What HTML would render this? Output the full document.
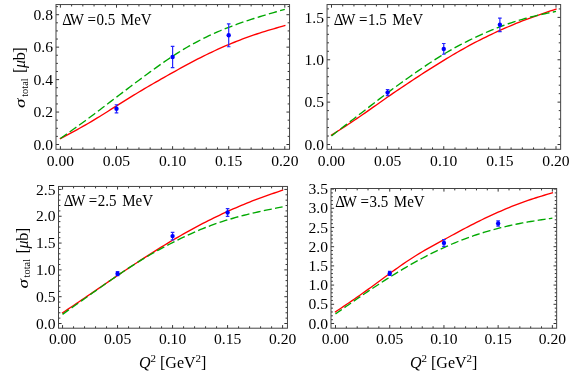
<!DOCTYPE html>
<html><head><meta charset="utf-8"><title>sigma total</title>
<style>
html,body{margin:0;padding:0;background:#fff;}
svg{display:block;}
text{font-family:"Liberation Serif", serif;font-size:15px;fill:#000;}
.it{font-style:italic;}
.tk{font-size:15.6px;}
.lb{font-size:15.7px;}
</style></head><body>
<svg width="581" height="372" viewBox="0 0 581 372">
<rect x="0" y="0" width="581" height="372" fill="#ffffff"/>
<defs><filter id="gs" filterUnits="userSpaceOnUse" x="0" y="0" width="581" height="372" color-interpolation-filters="sRGB"><feOffset dx="0" dy="0"/></filter></defs>
<g filter="url(#gs)">
<g>
<clipPath id="c0"><rect x="56" y="4.55" width="233.55" height="144.75"/></clipPath>
<g clip-path="url(#c0)" fill="none" stroke-linecap="butt" stroke-linejoin="round">
<path d="M60.4 138.5 L63.2 137.03 L66.01 135.55 L68.81 134.07 L71.62 132.58 L74.42 131.08 L77.23 129.56 L80.03 128.02 L82.84 126.46 L85.64 124.87 L88.45 123.25 L91.25 121.59 L94.06 119.91 L96.87 118.2 L99.67 116.47 L102.47 114.73 L105.28 112.97 L108.09 111.2 L110.89 109.43 L113.69 107.65 L116.5 105.88 L119.31 104.12 L122.11 102.37 L124.91 100.62 L127.72 98.88 L130.53 97.15 L133.33 95.44 L136.13 93.73 L138.94 92.04 L141.75 90.35 L144.55 88.69 L147.35 87.03 L150.16 85.39 L152.97 83.76 L155.77 82.14 L158.58 80.54 L161.38 78.94 L164.19 77.35 L166.99 75.77 L169.8 74.19 L172.6 72.62 L175.41 71.06 L178.21 69.5 L181.01 67.96 L183.82 66.42 L186.62 64.89 L189.43 63.39 L192.24 61.89 L195.04 60.42 L197.84 58.97 L200.65 57.53 L203.46 56.13 L206.26 54.74 L209.07 53.39 L211.87 52.05 L214.68 50.74 L217.48 49.46 L220.29 48.19 L223.09 46.96 L225.9 45.74 L228.7 44.55 L231.5 43.39 L234.31 42.25 L237.12 41.13 L239.92 40.04 L242.73 38.97 L245.53 37.93 L248.34 36.91 L251.14 35.92 L253.95 34.95 L256.75 34.01 L259.56 33.09 L262.36 32.2 L265.16 31.32 L267.97 30.47 L270.77 29.63 L273.58 28.8 L276.38 27.99 L279.19 27.18 L282 26.37 L284.8 25.57" stroke="#ff0000" stroke-width="1.35" stroke-linecap="square"/>
<path d="M60.4 138.5 L63.2 136.51 L66.01 134.53 L68.81 132.54 L71.62 130.55 L74.42 128.55 L77.23 126.54 L80.03 124.52 L82.84 122.49 L85.64 120.44 L88.45 118.38 L91.25 116.3 L94.06 114.2 L96.87 112.09 L99.67 109.97 L102.47 107.83 L105.28 105.7 L108.09 103.55 L110.89 101.41 L113.69 99.26 L116.5 97.12 L119.31 94.99 L122.11 92.85 L124.91 90.73 L127.72 88.61 L130.53 86.49 L133.33 84.39 L136.13 82.28 L138.94 80.19 L141.75 78.11 L144.55 76.03 L147.35 73.96 L150.16 71.91 L152.97 69.87 L155.77 67.84 L158.58 65.84 L161.38 63.86 L164.19 61.91 L166.99 59.98 L169.8 58.09 L172.6 56.24 L175.41 54.42 L178.21 52.64 L181.01 50.9 L183.82 49.2 L186.62 47.54 L189.43 45.92 L192.24 44.34 L195.04 42.8 L197.84 41.3 L200.65 39.85 L203.46 38.43 L206.26 37.06 L209.07 35.73 L211.87 34.43 L214.68 33.17 L217.48 31.94 L220.29 30.75 L223.09 29.59 L225.9 28.46 L228.7 27.36 L231.5 26.28 L234.31 25.23 L237.12 24.21 L239.92 23.2 L242.73 22.22 L245.53 21.27 L248.34 20.33 L251.14 19.41 L253.95 18.51 L256.75 17.62 L259.56 16.75 L262.36 15.89 L265.16 15.05 L267.97 14.21 L270.77 13.39 L273.58 12.57 L276.38 11.76 L279.19 10.95 L282 10.15 L284.8 9.35" stroke="#00a800" stroke-width="1.35" stroke-dasharray="8.3 3.37" stroke-dashoffset="0.35"/>
</g>
<g stroke="#2626ff" stroke-width="1.2" fill="#0000ff">
<path d="M116.5 104.75 V112.86 M114.7 104.75 H118.3 M114.7 112.86 H118.3" fill="none"/><circle cx="116.5" cy="108.81" r="2.2" stroke="none"/>
<path d="M172.6 46.35 V67.61 M170.8 46.35 H174.4 M170.8 67.61 H174.4" fill="none"/><circle cx="172.6" cy="56.98" r="2.2" stroke="none"/>
<path d="M228.7 23.87 V46.74 M226.9 23.87 H230.5 M226.9 46.74 H230.5" fill="none"/><circle cx="228.7" cy="35.31" r="2.2" stroke="none"/>
</g>
<path d="M60.4 149.3 v-3.1 M60.4 4.55 v3.1 M71.62 149.3 v-1.9 M71.62 4.55 v1.9 M82.84 149.3 v-1.9 M82.84 4.55 v1.9 M94.06 149.3 v-1.9 M94.06 4.55 v1.9 M105.28 149.3 v-1.9 M105.28 4.55 v1.9 M116.5 149.3 v-3.1 M116.5 4.55 v3.1 M127.72 149.3 v-1.9 M127.72 4.55 v1.9 M138.94 149.3 v-1.9 M138.94 4.55 v1.9 M150.16 149.3 v-1.9 M150.16 4.55 v1.9 M161.38 149.3 v-1.9 M161.38 4.55 v1.9 M172.6 149.3 v-3.1 M172.6 4.55 v3.1 M183.82 149.3 v-1.9 M183.82 4.55 v1.9 M195.04 149.3 v-1.9 M195.04 4.55 v1.9 M206.26 149.3 v-1.9 M206.26 4.55 v1.9 M217.48 149.3 v-1.9 M217.48 4.55 v1.9 M228.7 149.3 v-3.1 M228.7 4.55 v3.1 M239.92 149.3 v-1.9 M239.92 4.55 v1.9 M251.14 149.3 v-1.9 M251.14 4.55 v1.9 M262.36 149.3 v-1.9 M262.36 4.55 v1.9 M273.58 149.3 v-1.9 M273.58 4.55 v1.9 M284.8 149.3 v-3.1 M284.8 4.55 v3.1 M56 144.5 h3.1 M289.55 144.5 h-3.1 M56 136.39 h1.9 M289.55 136.39 h-1.9 M56 128.28 h1.9 M289.55 128.28 h-1.9 M56 120.16 h1.9 M289.55 120.16 h-1.9 M56 112.05 h3.1 M289.55 112.05 h-3.1 M56 103.94 h1.9 M289.55 103.94 h-1.9 M56 95.82 h1.9 M289.55 95.82 h-1.9 M56 87.71 h1.9 M289.55 87.71 h-1.9 M56 79.6 h3.1 M289.55 79.6 h-3.1 M56 71.49 h1.9 M289.55 71.49 h-1.9 M56 63.38 h1.9 M289.55 63.38 h-1.9 M56 55.26 h1.9 M289.55 55.26 h-1.9 M56 47.15 h3.1 M289.55 47.15 h-3.1 M56 39.04 h1.9 M289.55 39.04 h-1.9 M56 30.92 h1.9 M289.55 30.92 h-1.9 M56 22.81 h1.9 M289.55 22.81 h-1.9 M56 14.7 h3.1 M289.55 14.7 h-3.1 M56 6.59 h1.9 M289.55 6.59 h-1.9" stroke="#111111" stroke-width="0.85" fill="none"/>
<rect x="56" y="4.55" width="233.55" height="144.75" fill="none" stroke="#444444" stroke-width="1"/>
<text class="tk" x="53" y="149.6" text-anchor="end">0.0</text><text class="tk" x="53" y="117.15" text-anchor="end">0.2</text><text class="tk" x="53" y="84.7" text-anchor="end">0.4</text><text class="tk" x="53" y="52.25" text-anchor="end">0.6</text><text class="tk" x="53" y="19.8" text-anchor="end">0.8</text>
<text class="tk" x="60.4" y="165.8" text-anchor="middle">0.00</text><text class="tk" x="116.5" y="165.8" text-anchor="middle">0.05</text><text class="tk" x="172.6" y="165.8" text-anchor="middle">0.10</text><text class="tk" x="228.7" y="165.8" text-anchor="middle">0.15</text><text class="tk" x="284.8" y="165.8" text-anchor="middle">0.20</text>
<text class="lb" transform="translate(62.35 24.65) scale(0.955 1)">Δ</text><text class="lb" transform="translate(69.85 24.65) scale(0.955 1)">W</text><text class="lb" transform="translate(87.55 24.65) scale(0.955 1)">=</text><text class="lb" transform="translate(96.45 24.65) scale(0.955 1)">0.5</text><text class="lb" transform="translate(120.85 24.65) scale(0.955 1)">MeV</text>
</g>
<g>
<clipPath id="c1"><rect x="327.05" y="4.55" width="233.59" height="144.75"/></clipPath>
<g clip-path="url(#c1)" fill="none" stroke-linecap="butt" stroke-linejoin="round">
<path d="M331.5 135.18 L334.31 133.37 L337.11 131.55 L339.92 129.74 L342.73 127.91 L345.53 126.08 L348.34 124.23 L351.14 122.38 L353.95 120.5 L356.76 118.62 L359.56 116.71 L362.37 114.78 L365.18 112.83 L367.98 110.87 L370.79 108.9 L373.59 106.92 L376.4 104.94 L379.21 102.96 L382.01 100.98 L384.82 99.01 L387.62 97.05 L390.43 95.1 L393.24 93.17 L396.04 91.25 L398.85 89.35 L401.66 87.45 L404.46 85.57 L407.27 83.7 L410.07 81.84 L412.88 79.99 L415.69 78.15 L418.49 76.32 L421.3 74.5 L424.11 72.69 L426.91 70.89 L429.72 69.11 L432.52 67.33 L435.33 65.57 L438.14 63.82 L440.94 62.08 L443.75 60.36 L446.56 58.65 L449.36 56.96 L452.17 55.29 L454.98 53.63 L457.78 52 L460.59 50.38 L463.39 48.79 L466.2 47.23 L469.01 45.69 L471.81 44.18 L474.62 42.69 L477.43 41.23 L480.23 39.8 L483.04 38.4 L485.84 37.02 L488.65 35.66 L491.46 34.33 L494.26 33.01 L497.07 31.72 L499.88 30.45 L502.68 29.2 L505.49 27.96 L508.29 26.75 L511.1 25.55 L513.91 24.38 L516.71 23.23 L519.52 22.1 L522.33 20.99 L525.13 19.9 L527.94 18.84 L530.74 17.8 L533.55 16.78 L536.36 15.78 L539.16 14.79 L541.97 13.82 L544.77 12.86 L547.58 11.91 L550.39 10.97 L553.19 10.03 L556 9.1" stroke="#ff0000" stroke-width="1.35" stroke-linecap="square"/>
<path d="M331.5 135.86 L334.31 133.72 L337.11 131.57 L339.92 129.43 L342.73 127.28 L345.53 125.14 L348.34 122.98 L351.14 120.83 L353.95 118.67 L356.76 116.51 L359.56 114.33 L362.37 112.16 L365.18 109.98 L367.98 107.8 L370.79 105.62 L373.59 103.44 L376.4 101.28 L379.21 99.12 L382.01 96.97 L384.82 94.84 L387.62 92.73 L390.43 90.63 L393.24 88.56 L396.04 86.5 L398.85 84.46 L401.66 82.44 L404.46 80.44 L407.27 78.45 L410.07 76.47 L412.88 74.51 L415.69 72.56 L418.49 70.62 L421.3 68.7 L424.11 66.8 L426.91 64.91 L429.72 63.05 L432.52 61.21 L435.33 59.41 L438.14 57.63 L440.94 55.88 L443.75 54.17 L446.56 52.5 L449.36 50.87 L452.17 49.27 L454.98 47.71 L457.78 46.18 L460.59 44.69 L463.39 43.22 L466.2 41.79 L469.01 40.38 L471.81 39.01 L474.62 37.66 L477.43 36.34 L480.23 35.04 L483.04 33.77 L485.84 32.54 L488.65 31.33 L491.46 30.15 L494.26 29.01 L497.07 27.89 L499.88 26.81 L502.68 25.75 L505.49 24.73 L508.29 23.75 L511.1 22.79 L513.91 21.87 L516.71 20.98 L519.52 20.12 L522.33 19.29 L525.13 18.5 L527.94 17.74 L530.74 17.01 L533.55 16.31 L536.36 15.64 L539.16 14.99 L541.97 14.36 L544.77 13.74 L547.58 13.14 L550.39 12.55 L553.19 11.97 L556 11.38" stroke="#00a800" stroke-width="1.35" stroke-dasharray="8.3 3.37" stroke-dashoffset="0.35"/>
</g>
<g stroke="#2626ff" stroke-width="1.2" fill="#0000ff">
<path d="M387.62 89.51 V95.63 M385.82 89.51 H389.43 M385.82 95.63 H389.43" fill="none"/><circle cx="387.62" cy="92.57" r="2.2" stroke="none"/>
<path d="M443.75 43.52 V54.23 M441.95 43.52 H445.55 M441.95 54.23 H445.55" fill="none"/><circle cx="443.75" cy="48.88" r="2.2" stroke="none"/>
<path d="M499.88 18.11 V31.53 M498.07 18.11 H501.68 M498.07 31.53 H501.68" fill="none"/><circle cx="499.88" cy="24.82" r="2.2" stroke="none"/>
</g>
<path d="M331.5 149.3 v-3.1 M331.5 4.55 v3.1 M342.73 149.3 v-1.9 M342.73 4.55 v1.9 M353.95 149.3 v-1.9 M353.95 4.55 v1.9 M365.18 149.3 v-1.9 M365.18 4.55 v1.9 M376.4 149.3 v-1.9 M376.4 4.55 v1.9 M387.62 149.3 v-3.1 M387.62 4.55 v3.1 M398.85 149.3 v-1.9 M398.85 4.55 v1.9 M410.07 149.3 v-1.9 M410.07 4.55 v1.9 M421.3 149.3 v-1.9 M421.3 4.55 v1.9 M432.52 149.3 v-1.9 M432.52 4.55 v1.9 M443.75 149.3 v-3.1 M443.75 4.55 v3.1 M454.98 149.3 v-1.9 M454.98 4.55 v1.9 M466.2 149.3 v-1.9 M466.2 4.55 v1.9 M477.43 149.3 v-1.9 M477.43 4.55 v1.9 M488.65 149.3 v-1.9 M488.65 4.55 v1.9 M499.88 149.3 v-3.1 M499.88 4.55 v3.1 M511.1 149.3 v-1.9 M511.1 4.55 v1.9 M522.33 149.3 v-1.9 M522.33 4.55 v1.9 M533.55 149.3 v-1.9 M533.55 4.55 v1.9 M544.77 149.3 v-1.9 M544.77 4.55 v1.9 M556 149.3 v-3.1 M556 4.55 v3.1 M327.05 144.5 h3.1 M560.64 144.5 h-3.1 M327.05 136.03 h1.9 M560.64 136.03 h-1.9 M327.05 127.55 h1.9 M560.64 127.55 h-1.9 M327.05 119.08 h1.9 M560.64 119.08 h-1.9 M327.05 110.61 h1.9 M560.64 110.61 h-1.9 M327.05 102.13 h3.1 M560.64 102.13 h-3.1 M327.05 93.66 h1.9 M560.64 93.66 h-1.9 M327.05 85.19 h1.9 M560.64 85.19 h-1.9 M327.05 76.71 h1.9 M560.64 76.71 h-1.9 M327.05 68.24 h1.9 M560.64 68.24 h-1.9 M327.05 59.77 h3.1 M560.64 59.77 h-3.1 M327.05 51.29 h1.9 M560.64 51.29 h-1.9 M327.05 42.82 h1.9 M560.64 42.82 h-1.9 M327.05 34.35 h1.9 M560.64 34.35 h-1.9 M327.05 25.87 h1.9 M560.64 25.87 h-1.9 M327.05 17.4 h3.1 M560.64 17.4 h-3.1 M327.05 8.93 h1.9 M560.64 8.93 h-1.9" stroke="#111111" stroke-width="0.85" fill="none"/>
<rect x="327.05" y="4.55" width="233.59" height="144.75" fill="none" stroke="#444444" stroke-width="1"/>
<text class="tk" x="324.05" y="149.6" text-anchor="end">0.0</text><text class="tk" x="324.05" y="107.23" text-anchor="end">0.5</text><text class="tk" x="324.05" y="64.87" text-anchor="end">1.0</text><text class="tk" x="324.05" y="22.5" text-anchor="end">1.5</text>
<text class="tk" x="331.5" y="165.8" text-anchor="middle">0.00</text><text class="tk" x="387.62" y="165.8" text-anchor="middle">0.05</text><text class="tk" x="443.75" y="165.8" text-anchor="middle">0.10</text><text class="tk" x="499.88" y="165.8" text-anchor="middle">0.15</text><text class="tk" x="556" y="165.8" text-anchor="middle">0.20</text>
<text class="lb" transform="translate(333.8 24.65) scale(0.955 1)">Δ</text><text class="lb" transform="translate(341.3 24.65) scale(0.955 1)">W</text><text class="lb" transform="translate(359 24.65) scale(0.955 1)">=</text><text class="lb" transform="translate(367.9 24.65) scale(0.955 1)">1.5</text><text class="lb" transform="translate(392.3 24.65) scale(0.955 1)">MeV</text>
</g>
<g>
<clipPath id="c2"><rect x="58.5" y="186.45" width="228.95" height="141.75"/></clipPath>
<g clip-path="url(#c2)" fill="none" stroke-linecap="butt" stroke-linejoin="round">
<path d="M62.55 312.83 L65.3 310.98 L68.05 309.14 L70.8 307.29 L73.55 305.44 L76.3 303.59 L79.05 301.73 L81.8 299.87 L84.55 298.01 L87.31 296.15 L90.06 294.28 L92.81 292.4 L95.56 290.52 L98.31 288.64 L101.06 286.76 L103.81 284.88 L106.56 283 L109.31 281.12 L112.06 279.24 L114.81 277.37 L117.56 275.51 L120.31 273.65 L123.06 271.8 L125.81 269.96 L128.56 268.13 L131.32 266.31 L134.07 264.49 L136.82 262.69 L139.57 260.89 L142.32 259.11 L145.07 257.33 L147.82 255.57 L150.57 253.82 L153.32 252.08 L156.07 250.35 L158.82 248.63 L161.57 246.93 L164.32 245.25 L167.07 243.57 L169.82 241.92 L172.57 240.28 L175.33 238.66 L178.08 237.06 L180.83 235.47 L183.58 233.9 L186.33 232.35 L189.08 230.82 L191.83 229.31 L194.58 227.82 L197.33 226.35 L200.08 224.89 L202.83 223.46 L205.58 222.05 L208.33 220.65 L211.08 219.28 L213.83 217.92 L216.59 216.59 L219.34 215.27 L222.09 213.97 L224.84 212.69 L227.59 211.43 L230.34 210.19 L233.09 208.97 L235.84 207.76 L238.59 206.58 L241.34 205.41 L244.09 204.27 L246.84 203.15 L249.59 202.04 L252.34 200.96 L255.09 199.91 L257.84 198.87 L260.59 197.86 L263.35 196.86 L266.1 195.88 L268.85 194.91 L271.6 193.96 L274.35 193.01 L277.1 192.07 L279.85 191.13 L282.6 190.2" stroke="#ff0000" stroke-width="1.35" stroke-linecap="square"/>
<path d="M62.55 314.33 L65.3 312.37 L68.05 310.42 L70.8 308.46 L73.55 306.5 L76.3 304.55 L79.05 302.59 L81.8 300.63 L84.55 298.68 L87.31 296.72 L90.06 294.76 L92.81 292.8 L95.56 290.85 L98.31 288.89 L101.06 286.94 L103.81 285 L106.56 283.07 L109.31 281.15 L112.06 279.24 L114.81 277.34 L117.56 275.46 L120.31 273.59 L123.06 271.74 L125.81 269.92 L128.56 268.11 L131.32 266.32 L134.07 264.56 L136.82 262.82 L139.57 261.11 L142.32 259.42 L145.07 257.76 L147.82 256.13 L150.57 254.53 L153.32 252.95 L156.07 251.4 L158.82 249.88 L161.57 248.37 L164.32 246.9 L167.07 245.44 L169.82 244 L172.57 242.59 L175.33 241.19 L178.08 239.82 L180.83 238.46 L183.58 237.13 L186.33 235.83 L189.08 234.55 L191.83 233.29 L194.58 232.07 L197.33 230.88 L200.08 229.72 L202.83 228.59 L205.58 227.5 L208.33 226.44 L211.08 225.41 L213.83 224.41 L216.59 223.44 L219.34 222.5 L222.09 221.59 L224.84 220.71 L227.59 219.85 L230.34 219.03 L233.09 218.23 L235.84 217.45 L238.59 216.7 L241.34 215.97 L244.09 215.26 L246.84 214.57 L249.59 213.9 L252.34 213.25 L255.09 212.61 L257.84 211.99 L260.59 211.38 L263.35 210.79 L266.1 210.2 L268.85 209.63 L271.6 209.06 L274.35 208.49 L277.1 207.93 L279.85 207.38 L282.6 206.82" stroke="#00a800" stroke-width="1.35" stroke-dasharray="8.14 3.3" stroke-dashoffset="0.34"/>
</g>
<g stroke="#2626ff" stroke-width="1.2" fill="#0000ff">
<path d="M117.56 271.69 V275.69 M115.76 271.69 H119.36 M115.76 275.69 H119.36" fill="none"/><circle cx="117.56" cy="273.69" r="2.2" stroke="none"/>
<path d="M172.57 232.38 V239.78 M170.77 232.38 H174.38 M170.77 239.78 H174.38" fill="none"/><circle cx="172.57" cy="236.08" r="2.2" stroke="none"/>
<path d="M227.59 208.7 V216.31 M225.79 208.7 H229.39 M225.79 216.31 H229.39" fill="none"/><circle cx="227.59" cy="212.51" r="2.2" stroke="none"/>
</g>
<path d="M62.55 328.2 v-3.1 M62.55 186.45 v3.1 M73.55 328.2 v-1.9 M73.55 186.45 v1.9 M84.55 328.2 v-1.9 M84.55 186.45 v1.9 M95.56 328.2 v-1.9 M95.56 186.45 v1.9 M106.56 328.2 v-1.9 M106.56 186.45 v1.9 M117.56 328.2 v-3.1 M117.56 186.45 v3.1 M128.56 328.2 v-1.9 M128.56 186.45 v1.9 M139.57 328.2 v-1.9 M139.57 186.45 v1.9 M150.57 328.2 v-1.9 M150.57 186.45 v1.9 M161.57 328.2 v-1.9 M161.57 186.45 v1.9 M172.57 328.2 v-3.1 M172.57 186.45 v3.1 M183.58 328.2 v-1.9 M183.58 186.45 v1.9 M194.58 328.2 v-1.9 M194.58 186.45 v1.9 M205.58 328.2 v-1.9 M205.58 186.45 v1.9 M216.59 328.2 v-1.9 M216.59 186.45 v1.9 M227.59 328.2 v-3.1 M227.59 186.45 v3.1 M238.59 328.2 v-1.9 M238.59 186.45 v1.9 M249.59 328.2 v-1.9 M249.59 186.45 v1.9 M260.59 328.2 v-1.9 M260.59 186.45 v1.9 M271.6 328.2 v-1.9 M271.6 186.45 v1.9 M282.6 328.2 v-3.1 M282.6 186.45 v3.1 M58.5 323.5 h3.1 M287.45 323.5 h-3.1 M58.5 318.14 h1.9 M287.45 318.14 h-1.9 M58.5 312.78 h1.9 M287.45 312.78 h-1.9 M58.5 307.41 h1.9 M287.45 307.41 h-1.9 M58.5 302.05 h1.9 M287.45 302.05 h-1.9 M58.5 296.69 h3.1 M287.45 296.69 h-3.1 M58.5 291.33 h1.9 M287.45 291.33 h-1.9 M58.5 285.97 h1.9 M287.45 285.97 h-1.9 M58.5 280.6 h1.9 M287.45 280.6 h-1.9 M58.5 275.24 h1.9 M287.45 275.24 h-1.9 M58.5 269.88 h3.1 M287.45 269.88 h-3.1 M58.5 264.52 h1.9 M287.45 264.52 h-1.9 M58.5 259.16 h1.9 M287.45 259.16 h-1.9 M58.5 253.79 h1.9 M287.45 253.79 h-1.9 M58.5 248.43 h1.9 M287.45 248.43 h-1.9 M58.5 243.07 h3.1 M287.45 243.07 h-3.1 M58.5 237.71 h1.9 M287.45 237.71 h-1.9 M58.5 232.35 h1.9 M287.45 232.35 h-1.9 M58.5 226.98 h1.9 M287.45 226.98 h-1.9 M58.5 221.62 h1.9 M287.45 221.62 h-1.9 M58.5 216.26 h3.1 M287.45 216.26 h-3.1 M58.5 210.9 h1.9 M287.45 210.9 h-1.9 M58.5 205.54 h1.9 M287.45 205.54 h-1.9 M58.5 200.17 h1.9 M287.45 200.17 h-1.9 M58.5 194.81 h1.9 M287.45 194.81 h-1.9 M58.5 189.45 h3.1 M287.45 189.45 h-3.1" stroke="#111111" stroke-width="0.85" fill="none"/>
<rect x="58.5" y="186.45" width="228.95" height="141.75" fill="none" stroke="#444444" stroke-width="1"/>
<text class="tk" x="55.5" y="328.6" text-anchor="end">0.0</text><text class="tk" x="55.5" y="301.79" text-anchor="end">0.5</text><text class="tk" x="55.5" y="274.98" text-anchor="end">1.0</text><text class="tk" x="55.5" y="248.17" text-anchor="end">1.5</text><text class="tk" x="55.5" y="221.36" text-anchor="end">2.0</text><text class="tk" x="55.5" y="194.55" text-anchor="end">2.5</text>
<text class="tk" x="62.55" y="344.2" text-anchor="middle">0.00</text><text class="tk" x="117.56" y="344.2" text-anchor="middle">0.05</text><text class="tk" x="172.57" y="344.2" text-anchor="middle">0.10</text><text class="tk" x="227.59" y="344.2" text-anchor="middle">0.15</text><text class="tk" x="282.6" y="344.2" text-anchor="middle">0.20</text>
<text class="lb" transform="translate(63.65 206) scale(0.955 1)">Δ</text><text class="lb" transform="translate(71.15 206) scale(0.955 1)">W</text><text class="lb" transform="translate(88.85 206) scale(0.955 1)">=</text><text class="lb" transform="translate(97.75 206) scale(0.955 1)">2.5</text><text class="lb" transform="translate(122.15 206) scale(0.955 1)">MeV</text>
</g>
<g>
<clipPath id="c3"><rect x="331" y="188.5" width="225.65" height="139.7"/></clipPath>
<g clip-path="url(#c3)" fill="none" stroke-linecap="butt" stroke-linejoin="round">
<path d="M335.5 311.82 L338.21 310.01 L340.92 308.19 L343.63 306.37 L346.34 304.54 L349.05 302.71 L351.77 300.86 L354.48 299 L357.19 297.12 L359.9 295.23 L362.61 293.31 L365.32 291.37 L368.03 289.42 L370.74 287.45 L373.45 285.47 L376.16 283.48 L378.87 281.48 L381.58 279.49 L384.3 277.49 L387.01 275.51 L389.72 273.53 L392.43 271.57 L395.14 269.62 L397.85 267.69 L400.56 265.79 L403.27 263.91 L405.98 262.06 L408.69 260.24 L411.4 258.46 L414.12 256.72 L416.83 255.02 L419.54 253.36 L422.25 251.75 L424.96 250.17 L427.67 248.62 L430.38 247.1 L433.09 245.59 L435.8 244.11 L438.51 242.63 L441.22 241.16 L443.94 239.69 L446.65 238.22 L449.36 236.75 L452.07 235.27 L454.78 233.8 L457.49 232.33 L460.2 230.88 L462.91 229.43 L465.62 228 L468.33 226.58 L471.04 225.17 L473.75 223.79 L476.47 222.43 L479.18 221.09 L481.89 219.76 L484.6 218.46 L487.31 217.18 L490.02 215.91 L492.73 214.67 L495.44 213.44 L498.15 212.23 L500.86 211.04 L503.57 209.87 L506.29 208.72 L509 207.6 L511.71 206.49 L514.42 205.41 L517.13 204.36 L519.84 203.33 L522.55 202.33 L525.26 201.36 L527.97 200.42 L530.68 199.5 L533.39 198.61 L536.1 197.74 L538.82 196.89 L541.53 196.05 L544.24 195.23 L546.95 194.41 L549.66 193.6 L552.37 192.8" stroke="#ff0000" stroke-width="1.35" stroke-linecap="square"/>
<path d="M335.5 313.9 L338.21 312 L340.92 310.1 L343.63 308.21 L346.34 306.31 L349.05 304.43 L351.77 302.54 L354.48 300.67 L357.19 298.79 L359.9 296.93 L362.61 295.08 L365.32 293.23 L368.03 291.4 L370.74 289.58 L373.45 287.77 L376.16 285.97 L378.87 284.19 L381.58 282.42 L384.3 280.67 L387.01 278.94 L389.72 277.22 L392.43 275.52 L395.14 273.84 L397.85 272.18 L400.56 270.54 L403.27 268.92 L405.98 267.32 L408.69 265.74 L411.4 264.19 L414.12 262.67 L416.83 261.16 L419.54 259.69 L422.25 258.24 L424.96 256.81 L427.67 255.41 L430.38 254.04 L433.09 252.69 L435.8 251.37 L438.51 250.08 L441.22 248.81 L443.94 247.57 L446.65 246.35 L449.36 245.16 L452.07 244 L454.78 242.86 L457.49 241.75 L460.2 240.67 L462.91 239.62 L465.62 238.59 L468.33 237.59 L471.04 236.62 L473.75 235.68 L476.47 234.76 L479.18 233.87 L481.89 233.01 L484.6 232.17 L487.31 231.36 L490.02 230.57 L492.73 229.81 L495.44 229.07 L498.15 228.36 L500.86 227.67 L503.57 227.01 L506.29 226.36 L509 225.74 L511.71 225.14 L514.42 224.56 L517.13 224.01 L519.84 223.47 L522.55 222.95 L525.26 222.45 L527.97 221.96 L530.68 221.5 L533.39 221.05 L536.1 220.61 L538.82 220.18 L541.53 219.76 L544.24 219.35 L546.95 218.95 L549.66 218.55 L552.37 218.15" stroke="#00a800" stroke-width="1.35" stroke-dasharray="8.02 3.26" stroke-dashoffset="0.34"/>
</g>
<g stroke="#2626ff" stroke-width="1.2" fill="#0000ff">
<path d="M389.72 271.28 V275.48 M387.92 271.28 H391.52 M387.92 275.48 H391.52" fill="none"/><circle cx="389.72" cy="273.38" r="2.2" stroke="none"/>
<path d="M443.94 239.54 V246.3 M442.13 239.54 H445.74 M442.13 246.3 H445.74" fill="none"/><circle cx="443.94" cy="242.92" r="2.2" stroke="none"/>
<path d="M498.15 220.78 V226.19 M496.35 220.78 H499.95 M496.35 226.19 H499.95" fill="none"/><circle cx="498.15" cy="223.48" r="2.2" stroke="none"/>
</g>
<path d="M335.5 328.2 v-3.1 M335.5 188.5 v3.1 M346.34 328.2 v-1.9 M346.34 188.5 v1.9 M357.19 328.2 v-1.9 M357.19 188.5 v1.9 M368.03 328.2 v-1.9 M368.03 188.5 v1.9 M378.87 328.2 v-1.9 M378.87 188.5 v1.9 M389.72 328.2 v-3.1 M389.72 188.5 v3.1 M400.56 328.2 v-1.9 M400.56 188.5 v1.9 M411.4 328.2 v-1.9 M411.4 188.5 v1.9 M422.25 328.2 v-1.9 M422.25 188.5 v1.9 M433.09 328.2 v-1.9 M433.09 188.5 v1.9 M443.94 328.2 v-3.1 M443.94 188.5 v3.1 M454.78 328.2 v-1.9 M454.78 188.5 v1.9 M465.62 328.2 v-1.9 M465.62 188.5 v1.9 M476.47 328.2 v-1.9 M476.47 188.5 v1.9 M487.31 328.2 v-1.9 M487.31 188.5 v1.9 M498.15 328.2 v-3.1 M498.15 188.5 v3.1 M509 328.2 v-1.9 M509 188.5 v1.9 M519.84 328.2 v-1.9 M519.84 188.5 v1.9 M530.68 328.2 v-1.9 M530.68 188.5 v1.9 M541.53 328.2 v-1.9 M541.53 188.5 v1.9 M552.37 328.2 v-3.1 M552.37 188.5 v3.1 M331 323.5 h3.1 M556.65 323.5 h-3.1 M331 319.66 h1.9 M556.65 319.66 h-1.9 M331 315.82 h1.9 M556.65 315.82 h-1.9 M331 311.98 h1.9 M556.65 311.98 h-1.9 M331 308.14 h1.9 M556.65 308.14 h-1.9 M331 304.3 h3.1 M556.65 304.3 h-3.1 M331 300.45 h1.9 M556.65 300.45 h-1.9 M331 296.61 h1.9 M556.65 296.61 h-1.9 M331 292.77 h1.9 M556.65 292.77 h-1.9 M331 288.93 h1.9 M556.65 288.93 h-1.9 M331 285.09 h3.1 M556.65 285.09 h-3.1 M331 281.25 h1.9 M556.65 281.25 h-1.9 M331 277.41 h1.9 M556.65 277.41 h-1.9 M331 273.57 h1.9 M556.65 273.57 h-1.9 M331 269.73 h1.9 M556.65 269.73 h-1.9 M331 265.89 h3.1 M556.65 265.89 h-3.1 M331 262.05 h1.9 M556.65 262.05 h-1.9 M331 258.21 h1.9 M556.65 258.21 h-1.9 M331 254.36 h1.9 M556.65 254.36 h-1.9 M331 250.52 h1.9 M556.65 250.52 h-1.9 M331 246.68 h3.1 M556.65 246.68 h-3.1 M331 242.84 h1.9 M556.65 242.84 h-1.9 M331 239 h1.9 M556.65 239 h-1.9 M331 235.16 h1.9 M556.65 235.16 h-1.9 M331 231.32 h1.9 M556.65 231.32 h-1.9 M331 227.48 h3.1 M556.65 227.48 h-3.1 M331 223.64 h1.9 M556.65 223.64 h-1.9 M331 219.8 h1.9 M556.65 219.8 h-1.9 M331 215.96 h1.9 M556.65 215.96 h-1.9 M331 212.12 h1.9 M556.65 212.12 h-1.9 M331 208.27 h3.1 M556.65 208.27 h-3.1 M331 204.43 h1.9 M556.65 204.43 h-1.9 M331 200.59 h1.9 M556.65 200.59 h-1.9 M331 196.75 h1.9 M556.65 196.75 h-1.9 M331 192.91 h1.9 M556.65 192.91 h-1.9 M331 189.07 h3.1 M556.65 189.07 h-3.1" stroke="#111111" stroke-width="0.85" fill="none"/>
<rect x="331" y="188.5" width="225.65" height="139.7" fill="none" stroke="#444444" stroke-width="1"/>
<text class="tk" x="328" y="328.6" text-anchor="end">0.0</text><text class="tk" x="328" y="309.4" text-anchor="end">0.5</text><text class="tk" x="328" y="290.19" text-anchor="end">1.0</text><text class="tk" x="328" y="270.99" text-anchor="end">1.5</text><text class="tk" x="328" y="251.78" text-anchor="end">2.0</text><text class="tk" x="328" y="232.58" text-anchor="end">2.5</text><text class="tk" x="328" y="213.37" text-anchor="end">3.0</text><text class="tk" x="328" y="194.17" text-anchor="end">3.5</text>
<text class="tk" x="335.5" y="344.2" text-anchor="middle">0.00</text><text class="tk" x="389.72" y="344.2" text-anchor="middle">0.05</text><text class="tk" x="443.94" y="344.2" text-anchor="middle">0.10</text><text class="tk" x="498.15" y="344.2" text-anchor="middle">0.15</text><text class="tk" x="552.37" y="344.2" text-anchor="middle">0.20</text>
<text class="lb" transform="translate(335.3 207.3) scale(0.955 1)">Δ</text><text class="lb" transform="translate(342.8 207.3) scale(0.955 1)">W</text><text class="lb" transform="translate(360.5 207.3) scale(0.955 1)">=</text><text class="lb" transform="translate(369.4 207.3) scale(0.955 1)">3.5</text><text class="lb" transform="translate(393.8 207.3) scale(0.955 1)">MeV</text>
</g>
<g transform="translate(25.3 77.4) rotate(-90)"><text class="it" transform="translate(-30.6 0) scale(1.32 1)" style="font-size:14.5px">σ</text><text x="-19.4" y="2.3" style="font-size:10.4px">total</text><text x="4.4" y="0" style="font-size:16px">[<tspan class="it" dx="-0.2">μ</tspan><tspan dx="-0.4">b</tspan><tspan dx="-0.4">]</tspan></text></g>
<g transform="translate(27.8 258) rotate(-90)"><text class="it" transform="translate(-30.6 0) scale(1.32 1)" style="font-size:14.5px">σ</text><text x="-19.4" y="2.3" style="font-size:10.4px">total</text><text x="4.4" y="0" style="font-size:16px">[<tspan class="it" dx="-0.2">μ</tspan><tspan dx="-0.4">b</tspan><tspan dx="-0.4">]</tspan></text></g>
<text x="172.7" y="368.2" text-anchor="middle" style="font-size:16px"><tspan class="it">Q</tspan><tspan style="font-size:11px" dy="-5.8">2</tspan><tspan dy="5.8"> [GeV</tspan><tspan style="font-size:11px" dy="-5.8">2</tspan><tspan dy="5.8">]</tspan></text>
<text x="443.7" y="368.2" text-anchor="middle" style="font-size:16px"><tspan class="it">Q</tspan><tspan style="font-size:11px" dy="-5.8">2</tspan><tspan dy="5.8"> [GeV</tspan><tspan style="font-size:11px" dy="-5.8">2</tspan><tspan dy="5.8">]</tspan></text>
</g>
</svg>
</body></html>
